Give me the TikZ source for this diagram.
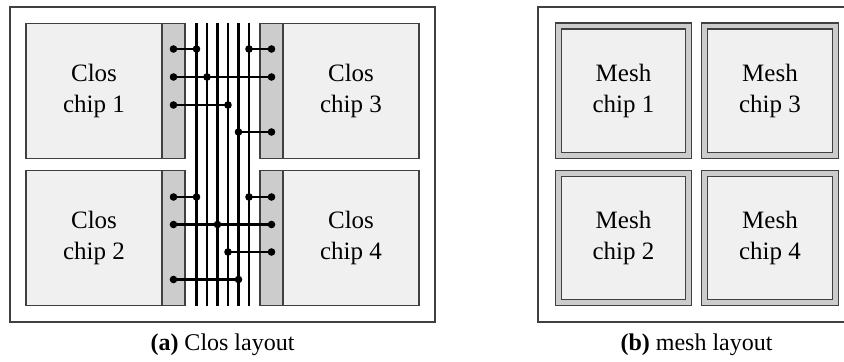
\documentclass[tikz,border=0pt]{standalone}
\usepackage{fontspec}
\setmainfont{Liberation Serif}
\tikzset{
  frame/.style={draw=black!75, line width=0.6pt},
  chip/.style={draw=black!75, fill=black!6, line width=0.6pt, inner sep=0pt,
    minimum width=68pt, minimum height=67.5pt, align=center,
    font=\fontsize{12.5}{15.5}\selectfont},
  portstrip/.style={draw=black!75, fill=black!20, line width=0.6pt, inner sep=0pt,
    minimum width=11.5pt, minimum height=67.5pt},
  meshring/.style={draw=black!75, fill=black!20, line width=0.6pt, inner sep=0pt,
    minimum width=68.3pt, minimum height=67.8pt},
  meshchip/.style={chip, minimum width=62.3pt, minimum height=61.8pt},
  bus/.style={line width=1.3pt},
  wire/.style={line width=1.3pt},
  dot/.style={circle, fill=black, inner sep=0pt, minimum size=3.8pt},
  caption/.style={font=\fontsize{12}{14}\selectfont},
}
\begin{document}
\begin{tikzpicture}[x=0.5pt,y=-0.5pt]
  \useasboundingbox (0,0) rectangle (844,362);
  \clip (0,0) rectangle (844,362);

  % (a) Clos layout
  \draw[frame] (10,7) rectangle (435,322);
  \node[chip] (clos1) at (94,90.75) {Clos\\chip 1};
  \node[portstrip] (port1) at (173.5,90.75) {};
  \node[chip] (clos2) at (94,238) {Clos\\chip 2};
  \node[portstrip] (port2) at (173.5,238) {};
  \node[chip] (clos3) at (351,90.75) {Clos\\chip 3};
  \node[portstrip] (port3) at (271.5,90.75) {};
  \node[chip] (clos4) at (351,238) {Clos\\chip 4};
  \node[portstrip] (port4) at (271.5,238) {};

  % vertical buses
  \coordinate (bus1t) at (196.5,23);  \coordinate (bus1b) at (196.5,306);
  \coordinate (bus2t) at (207,23);    \coordinate (bus2b) at (207,306);
  \coordinate (bus3t) at (217.5,23);  \coordinate (bus3b) at (217.5,306);
  \coordinate (bus4t) at (228,23);    \coordinate (bus4b) at (228,306);
  \coordinate (bus5t) at (238.5,23);  \coordinate (bus5b) at (238.5,306);
  \coordinate (bus6t) at (249,23);    \coordinate (bus6b) at (249,306);
  \begin{scope}[bus]
    \draw (bus1t) -- (bus1b);
    \draw (bus2t) -- (bus2b);
    \draw (bus3t) -- (bus3b);
    \draw (bus4t) -- (bus4b);
    \draw (bus5t) -- (bus5b);
    \draw (bus6t) -- (bus6b);
  \end{scope}

  % ports and taps, top row
  \node[dot] (l1) at (173.5,49) {};
  \node[dot] (t1) at (196.5,49) {};
  \node[dot] (t2) at (249,49) {};
  \node[dot] (r1) at (271.5,49) {};
  \node[dot] (l2) at (173.5,77) {};
  \node[dot] (t3) at (207,77) {};
  \node[dot] (r2) at (271.5,77) {};
  \node[dot] (l3) at (173.5,105) {};
  \node[dot] (t4) at (228,105) {};
  \node[dot] (t5) at (238.5,132) {};
  \node[dot] (r4) at (271.5,132) {};

  % ports and taps, bottom row
  \node[dot] (l5) at (173.5,197) {};
  \node[dot] (t6) at (196.5,197) {};
  \node[dot] (t7) at (249,197) {};
  \node[dot] (r5) at (271.5,197) {};
  \node[dot] (l6) at (173.5,224.5) {};
  \node[dot] (t8) at (217.5,224.5) {};
  \node[dot] (r6) at (271.5,224.5) {};
  \node[dot] (t9) at (228,252) {};
  \node[dot] (r7) at (271.5,252) {};
  \node[dot] (l8) at (173.5,279.5) {};
  \node[dot] (t10) at (238.5,279.5) {};

  \begin{scope}[wire]
    \draw (l1.center) -- (t1.center);
    \draw (t2.center) -- (r1.center);
    \draw (l2.center) -- (r2.center);
    \draw (l3.center) -- (t4.center);
    \draw (t5.center) -- (r4.center);
    \draw (l5.center) -- (t6.center);
    \draw (t7.center) -- (r5.center);
    \draw (l6.center) -- (r6.center);
    \draw (t9.center) -- (r7.center);
    \draw (l8.center) -- (t10.center);
  \end{scope}

  \node[caption] (capa) at (222.5,345) {\textbf{(a)} Clos layout};

  % (b) mesh layout
  \draw[frame] (538,7) rectangle (855,322);
  \node[meshring] (ring1) at (623.5,90.75) {};
  \node[meshchip] (mesh1) at (ring1) {Mesh\\chip 1};
  \node[meshring] (ring2) at (623.5,238) {};
  \node[meshchip] (mesh2) at (ring2) {Mesh\\chip 2};
  \node[meshring] (ring3) at (770,90.75) {};
  \node[meshchip] (mesh3) at (ring3) {Mesh\\chip 3};
  \node[meshring] (ring4) at (770,238) {};
  \node[meshchip] (mesh4) at (ring4) {Mesh\\chip 4};

  \node[caption] (capb) at (696.5,345) {\textbf{(b)} mesh layout};
\end{tikzpicture}
\end{document}
